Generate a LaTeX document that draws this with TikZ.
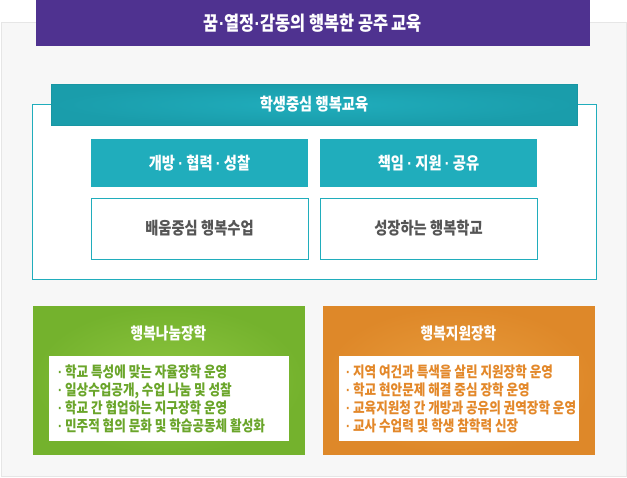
\documentclass[tikz,border=0pt]{standalone}
\usepackage{fontspec}
\setmainfont{Noto Sans CJK KR}[FakeStretch=0.84]
\newfontfamily\dotfont{Liberation Sans}[FakeStretch=0.84]
\newcommand{\md}{{\dotfont\bfseries ·}}
\usetikzlibrary{positioning}
\definecolor{bggray}{HTML}{F7F7F7}
\definecolor{bgline}{HTML}{E6E6E6}
\definecolor{purp}{HTML}{4F3290}
\definecolor{teal1}{HTML}{20ADBC}
\definecolor{teal2}{HTML}{1A9DAB}
\definecolor{tealline}{HTML}{1896A3}
\definecolor{darktext}{HTML}{555555}
\definecolor{grnout}{HTML}{74B22D}
\definecolor{grnin}{HTML}{8DC53F}
\definecolor{grntext}{HTML}{6AA52A}
\definecolor{orgout}{HTML}{DE8829}
\definecolor{orgin}{HTML}{E89C3C}
\definecolor{orgtext}{HTML}{E3882A}
\tikzset{
  every node/.style={inner sep=0pt, outer sep=0pt, font=\bfseries},
  titlebox/.style={rectangle, fill=purp, text=white, font=\bfseries\fontsize{19.5}{21}\selectfont},
  headbox/.style={rectangle, draw=tealline, line width=0.8pt, inner color=teal1, outer color=teal2, text=white, font=\bfseries\fontsize{17}{19}\selectfont},
  framebox/.style={rectangle, draw=teal1, line width=1pt, fill=white},
  tealbox/.style={rectangle, fill=teal1, text=white, font=\bfseries\fontsize{17}{19}\selectfont},
  whitebox/.style={rectangle, draw=teal1, line width=1pt, fill=white, text=darktext, font=\bfseries\fontsize{17}{19}\selectfont},
  grnbox/.style={rectangle, inner color=grnin, outer color=grnout, draw=grnout, line width=0.6pt},
  orgbox/.style={rectangle, inner color=orgin, outer color=orgout, draw=orgout, line width=0.6pt},
  boxtitle/.style={text=white, font=\bfseries\fontsize{16.3}{18}\selectfont},
  listbox/.style={rectangle, fill=white},
  listtext/.style={align=left, anchor=west, font=\bfseries\fontsize{15}{18}\selectfont},
}
\begin{document}
\begin{tikzpicture}[x=1pt,y=-1pt]
\useasboundingbox (0,0) rectangle (627,477);
% background panel
\fill[bggray, draw=bgline, line width=0.8pt] (1,22) rectangle (626,476);
% top title
\node[titlebox, minimum width=554pt, minimum height=46pt] (title) at (313,23) {꿈\md 열정\md 감동의 행복한 공주 교육};
% outer frame
\node[framebox, minimum width=564pt, minimum height=175pt] (frame) at (314,191.5) {};
\node[headbox, minimum width=526pt, minimum height=41pt] (head) at (314,104.5) {학생중심 행복교육};
% teal boxes
\node[tealbox, minimum width=217pt, minimum height=48pt] (a) at (199.5,163) {개방 \md{} 협력 \md{} 성찰};
\node[tealbox, minimum width=217pt, minimum height=48pt] (b) at (428.5,163) {책임 \md{} 지원 \md{} 공유};
\node[whitebox, minimum width=217pt, minimum height=61pt] (c) at (199.5,228.5) {배움중심 행복수업};
\node[whitebox, minimum width=217pt, minimum height=61pt] (d) at (428.5,228.5) {성장하는 행복학교};
% green
\node[grnbox, minimum width=271pt, minimum height=148pt] (g) at (168.5,380) {};
\node[boxtitle] (gt) at (168.5,333) {행복나눔장학};
\node[listbox, minimum width=240pt, minimum height=85pt] (gi) at (169,398.5) {};
\node[listtext, text=grntext] (gl) at ([xshift=9pt]gi.west) {\md{} 학교 특성에 맞는 자율장학 운영\\\md{} 일상수업공개, 수업 나눔 및 성찰\\\md{} 학교 간 협업하는 지구장학 운영\\\md{} 민주적 협의 문화 및 학습공동체 활성화};
% orange
\node[orgbox, minimum width=271pt, minimum height=148pt] (o) at (458.5,380) {};
\node[boxtitle] (ot) at (458.5,333) {행복지원장학};
\node[listbox, minimum width=240pt, minimum height=85pt] (oi) at (459,398.5) {};
\node[listtext, text=orgtext] (ol) at ([xshift=7pt]oi.west) {\md{} 지역 여건과 특색을 살린 지원장학 운영\\\md{} 학교 현안문제 해결 중심 장학 운영\\\md{} 교육지원청 간 개방과 공유의 권역장학 운영\\\md{} 교사 수업력 및 학생 참학력 신장};
\end{tikzpicture}
\end{document}
